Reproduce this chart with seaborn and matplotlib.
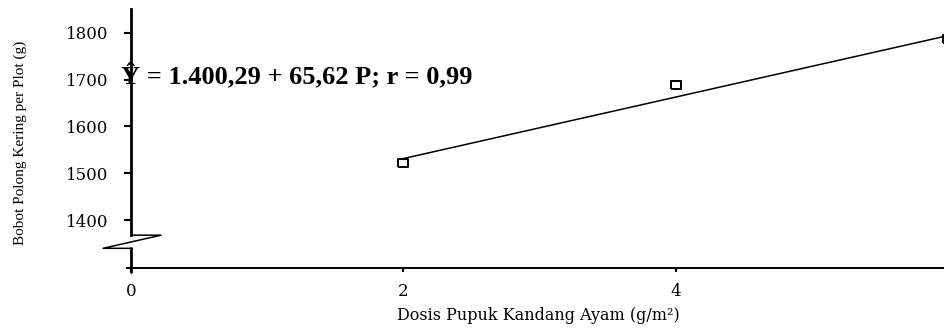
import matplotlib
matplotlib.use("Agg")
import matplotlib.pyplot as plt
import seaborn as sns
import numpy as np
import pandas as pd

# observed values
dosis = [2, 4, 6]
bobot = [1522, 1688, 1787]

# regression  Y = a + b P
intercept = 1400.29
slope = 65.62
line_x = [2, 6]

y_ticks = [1400, 1500, 1600, 1700, 1800]
x_ticks = [0, 2, 4, 6]
eq_text = "Ŷ = 1.400,29 + 65,62 P; r = 0,99"

sns.set_theme(style="white")
plt.rcParams["font.family"] = ["Liberation Serif", "DejaVu Serif"]
plt.rcParams["text.color"] = "black"
plt.rcParams["axes.labelcolor"] = "black"
plt.rcParams["xtick.color"] = "black"
plt.rcParams["ytick.color"] = "black"
plt.rcParams["axes.edgecolor"] = "black"

W, H = 944, 330
fig = plt.figure(figsize=(W / 100, H / 100), dpi=100)

# pixel layout: x=0 at px 131, 136.2 px per unit; y-axis 1298..1850 between px 268 and 9
px_per_x = 136.2
x0, x1 = -0.03, 6.15
left_px = 131 + x0 * px_per_x
width_px = (x1 - x0) * px_per_x
ax = fig.add_axes([left_px / W, (H - 268) / H, width_px / W, (268 - 9.3) / H])
ax.set_xlim(x0, x1)
ax.set_ylim(1298, 1850)

df = pd.DataFrame({"dosis": dosis, "bobot": bobot})
line_df = pd.DataFrame({"x": line_x, "y": [intercept + slope * v for v in line_x]})

sns.lineplot(data=line_df, x="x", y="y", ax=ax, color="black", linewidth=1.1)
rect = [(-1.5, -1), (1.5, -1), (1.5, 1), (-1.5, 1), (-1.5, -1)]
sns.scatterplot(data=df, x="dosis", y="bobot", ax=ax, marker=rect, s=62,
                facecolor="white", edgecolor="black", linewidth=1.4, zorder=5,
                clip_on=False)

for s in ["top", "right"]:
    ax.spines[s].set_visible(False)
ax.spines["bottom"].set_linewidth(1.4)
ax.spines["left"].set_linewidth(2)
ax.spines["left"].set_position(("data", 0))
ax.spines["left"].set_bounds(1368, 1850)

# broken y axis: zigzag and lower stub
brk = dict(color="black", linewidth=1.1, clip_on=False)
ax.plot([0, 0.22, -0.205, 0], [1368, 1368, 1340, 1340], **brk)
ax.plot([0, 0], [1340, 1290], color="black", linewidth=2, clip_on=False)

ax.set_yticks(y_ticks)
ax.set_xticks(x_ticks)
ax.tick_params(axis="y", direction="out", length=5, width=1.5, pad=11,
               left=True)
ax.tick_params(axis="x", direction="out", length=3, width=1.5, pad=8,
               bottom=True)
for lab in ax.get_xticklabels() + ax.get_yticklabels():
    lab.set_family("DejaVu Serif")
    lab.set_fontsize(12)

ax.set_xlabel("Dosis Pupuk Kandang Ayam (g/m²)", family="DejaVu Serif",
              fontsize=11.5)
ax.xaxis.set_label_coords((538 - left_px) / width_px, -0.15)
ax.set_ylabel("")
fig.text(20 / W, 1 - 143 / H, "Bobot Polong Kering per Plot (g)", rotation=90,
         ha="center", va="center", fontsize=11)

ax.text(-0.075, 1692, eq_text, fontsize=19, fontweight="bold", ha="left",
        va="baseline", zorder=6)

fig.savefig("out.png", dpi=100)
